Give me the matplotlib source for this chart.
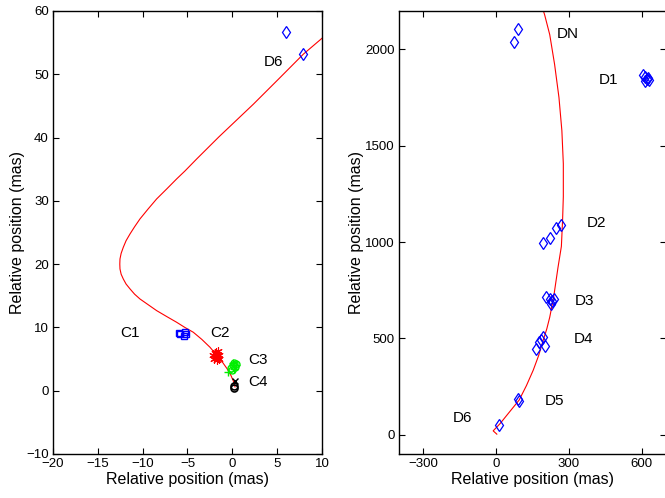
import matplotlib
matplotlib.use("Agg")
import matplotlib.pyplot as plt

plt.rcParams["font.family"] = ["Liberation Sans", "DejaVu Sans"]

# ---- left panel: inner jet (C components) ----
model_left_x = [0.3, 0.15, -0.15, -0.6, -1.2, -1.74, -2.49, -3.4, -4.35, -5.3,
                -6.21, -7.3, -8.44, -9.4, -10.3, -10.9, -11.41, -11.85, -12.16,
                -12.4, -12.53, -12.55, -12.53, -12.4, -12.16, -11.85, -11.41,
                -10.9, -10.3, -9.4, -8.44, -7.3, -6.21, -5.28, -3.97, -1.5,
                2.34, 5.2, 7.91, 10.08]
model_left_y = [0.6, 1.4, 2.4, 3.5, 4.7, 5.6, 6.86, 8.1, 9.23, 10.0,
                10.81, 11.7, 12.65, 13.6, 14.49, 15.25, 16.08, 16.85, 17.65,
                18.4, 19.24, 20.0, 20.81, 21.7, 22.66, 23.7, 24.77,
                25.9, 27.14, 28.7, 30.3, 31.9, 33.46, 34.72, 36.62, 40.1,
                45.26, 49.3, 53.16, 55.78]

c1_x = [-6.0, -5.3, -5.4, -5.8, -5.2]
c1_y = [9.1, 9.3, 8.6, 9.0, 9.0]
c2_x = [-1.9, -1.7, -1.6, -1.8, -2.0, -1.5, -1.7, -1.9, -1.6, -1.8, -2.1, -1.5, -1.7]
c2_y = [5.5, 5.8, 5.2, 6.1, 5.0, 5.6, 4.8, 5.9, 6.2, 5.3, 5.7, 5.0, 5.4]
c3o_x = [0.1, 0.3, 0.2, -0.1, 0.4, 0.0]
c3o_y = [4.0, 3.8, 4.3, 3.6, 4.2, 3.3]
c3p_x = [0.4, -0.5, 0.2, 0.1]
c3p_y = [4.1, 3.0, 3.5, 4.4]
c4o_x = [0.17, 0.2]
c4o_y = [0.5, 0.8]
c4x_x = [0.28]
c4x_y = [1.5]
d6_left_x = [5.94, 7.91]
d6_left_y = [56.6, 53.2]

left_labels = ["C1", "C2", "C3", "C4", "D6"]
left_label_x = [-11.44, -1.39, 2.81, 2.81, 4.64]
left_label_y = [9.1, 9.1, 4.87, 1.44, 51.9]

# ---- right panel: outer jet (D components) ----
model_right_x = [3, -12, -3, 16, 50, 95, 125, 153, 175, 194, 209, 221, 237, 255,
                 269, 274, 277, 277, 271, 259, 241, 221, 200, 195]
model_right_y = [3, 20, 32, 57, 110, 180, 255, 335, 410, 490, 550, 610, 713, 868,
                 978, 1116, 1236, 1407, 1579, 1751, 1923, 2077, 2180, 2200]

d_x = [89, 74,
       605, 612, 620, 628, 625, 615,
       194, 221, 245, 269,
       207, 221, 232, 228, 237,
       194, 177, 164, 202, 183,
       95, 91,
       10]
d_y = [2108, 2040,
       1865, 1855, 1845, 1840, 1850, 1838,
       996, 1022, 1074, 1091,
       716, 705, 696, 679, 703,
       507, 481, 447, 459, 490,
       177, 184,
       52]

right_labels = ["DN", "D1", "D2", "D3", "D4", "D5", "D6"]
right_label_x = [295, 462, 413, 364, 360, 241, -139]
right_label_y = [2082, 1840, 1098, 696, 495, 175, 88]

xlabel = "Relative position (mas)"
ylabel = "Relative position (mas)"


def style_axes(ax):
    ax.tick_params(direction="in", top=True, right=True, length=4,
                   width=0.8, labelsize=9.5, pad=3)
    for s in ax.spines.values():
        s.set_linewidth(1.0)
    ax.set_xlabel(xlabel, fontsize=11.5, labelpad=1)
    ax.set_ylabel(ylabel, fontsize=11.5, labelpad=1)


fig = plt.figure(figsize=(6.65, 4.98), dpi=100)

ax1 = fig.add_axes([0.0797, 0.0884, 0.4045, 0.8896])
ax1.plot(model_left_x, model_left_y, color="red", lw=0.8)
ax1.plot(c1_x, c1_y, "s", mfc="none", mec="blue", ms=5, mew=1.0)
ax1.plot(c2_x, c2_y, linestyle="none", marker=(6, 2, 0), color="red", ms=6, mew=0.8)
ax1.plot(c3o_x, c3o_y, "o", mfc="none", mec="#00ee00", ms=5, mew=1.0)
ax1.plot(c3p_x, c3p_y, "+", color="#00ee00", ms=6, mew=1.0)
ax1.plot(c4o_x, c4o_y, "o", mfc="none", mec="black", ms=5, mew=1.2)
ax1.plot(c4x_x, c4x_y, "x", color="black", ms=5, mew=1.0)
ax1.plot(d6_left_x, d6_left_y, "d", mfc="none", mec="blue", ms=6, mew=0.9)
for t, x, y in zip(left_labels, left_label_x, left_label_y):
    ax1.text(x, y, t, fontsize=11, ha="center", va="center")
ax1.set_xlim(-20, 10)
ax1.set_ylim(-10, 60)
ax1.set_xticks(range(-20, 11, 5))
ax1.set_yticks(range(-10, 61, 10))
style_axes(ax1)

ax2 = fig.add_axes([0.6, 0.0884, 0.4015, 0.8896])
ax2.plot(model_right_x, model_right_y, color="red", lw=0.8)
ax2.plot(d_x, d_y, "d", mfc="none", mec="blue", ms=6, mew=0.9)
for t, x, y in zip(right_labels, right_label_x, right_label_y):
    ax2.text(x, y, t, fontsize=11, ha="center", va="center")
ax2.set_xlim(-400, 700)
ax2.set_ylim(-100, 2200)
ax2.set_xticks([-300, 0, 300, 600])
ax2.set_yticks([0, 500, 1000, 1500, 2000])
style_axes(ax2)

fig.savefig("out.png", dpi=100)
